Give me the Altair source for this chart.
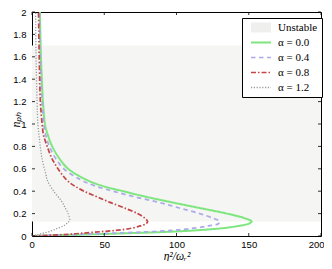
import altair as alt
import pandas as pd

# ---- legend / series definitions ----
series_names = ["Unstable", "α = 0.0", "α = 0.4", "α = 0.8", "α = 1.2"]
series_colors = ["#efefed", "#7ee67e", "#abaaea", "#c24646", "#9a9a9a"]
series_dash = [[1, 0], [1, 0], [4.5, 3.5], [5, 2, 1.5, 2], [1.2, 1.6]]
series_widths = [10, 2, 1.7, 1.7, 1.3]

# ---- shaded unstable band (n_ph range) ----
unstable_lo = [0.13]
unstable_hi = [1.7]

# ---- curves: n_ph values and eta^2/omega_r^2 values ----
a00_n = [2.0, 1.8, 1.6, 1.4, 1.2, 1.0, 0.9, 0.8, 0.7, 0.6, 0.5, 0.45, 0.4, 0.35, 0.3, 0.25,
         0.2, 0.16, 0.13, 0.11, 0.09, 0.07, 0.05, 0.035, 0.024, 0.015, 0.008, 0.0]
a00_x = [5.5, 5.8, 6.2, 6.8, 7.6, 9.0, 11.0, 14.0, 18.5, 25.0, 38.0, 48.0, 63.0, 79.0, 97.0, 116.0,
         135.0, 147.0, 152.0, 150.0, 143.0, 132.0, 113.0, 90.0, 65.0, 42.0, 20.0, 0.0]

a04_n = [2.0, 1.6, 1.2, 1.0, 0.9, 0.8, 0.7, 0.6, 0.5, 0.45, 0.4, 0.35, 0.3, 0.25,
         0.2, 0.16, 0.13, 0.11, 0.09, 0.07, 0.05, 0.035, 0.025, 0.015, 0.008, 0.0]
a04_x = [5.2, 5.8, 7.0, 8.2, 9.5, 12.0, 16.0, 22.0, 34.0, 43.0, 56.0, 71.0, 88.0, 102.0,
         116.0, 125.0, 130.0, 129.0, 122.0, 112.0, 97.0, 75.0, 55.0, 35.0, 18.0, 0.0]

a08_n = [2.0, 1.6, 1.2, 1.0, 0.9, 0.8, 0.7, 0.6, 0.5, 0.45, 0.4, 0.35, 0.3, 0.25,
         0.2, 0.16, 0.13, 0.11, 0.09, 0.07, 0.05, 0.038, 0.025, 0.015, 0.007, 0.0]
a08_x = [4.5, 5.0, 5.8, 7.0, 8.0, 10.5, 13.5, 18.0, 24.0, 29.0, 36.0, 45.0, 54.0, 64.0,
         73.0, 78.0, 80.0, 79.0, 75.0, 69.0, 58.0, 47.0, 35.0, 25.0, 12.0, 0.0]

a12_n = [2.0, 1.6, 1.2, 1.0, 0.85, 0.7, 0.55, 0.5, 0.4, 0.31, 0.25, 0.2, 0.14,
         0.1, 0.07, 0.04, 0.02, 0.01, 0.0]
a12_x = [2.5, 2.8, 3.5, 4.1, 5.3, 6.8, 9.6, 10.5, 15.0, 20.5, 23.0, 25.0, 26.0,
         23.0, 18.0, 12.0, 6.0, 3.0, 0.0]

# ---- axis ticks ----
x_ticks = [0, 50, 100, 150, 200]
y_ticks = [0, 0.2, 0.4, 0.6, 0.8, 1.0, 1.2, 1.4, 1.6, 1.8, 2.0]

W, H = 289, 224

frames = []
for name, ns, xs in [("α = 0.0", a00_n, a00_x), ("α = 0.4", a04_n, a04_x),
                     ("α = 0.8", a08_n, a08_x), ("α = 1.2", a12_n, a12_x)]:
    frames.append(pd.DataFrame({"series": name, "n": ns, "x": xs}))
curves = pd.concat(frames, ignore_index=True)
band = pd.DataFrame({"lo": unstable_lo, "hi": unstable_hi})
xt = pd.DataFrame({"t": x_ticks})
yt = pd.DataFrame({"t": y_ticks})

x_scale = alt.Scale(domain=[0, 200], nice=False, zero=False)
y_scale = alt.Scale(domain=[0, 2], nice=False, zero=False)

x_axis = alt.Axis(values=x_ticks, title="η²/ωᵣ²", labelPadding=3,
                  labelFlush=True, labelFlushOffset=3,
                  titleX=W / 2, titleY=23, titleBaseline="alphabetic", titleFontSize=11.5)
y_axis = alt.Axis(values=y_ticks, format="~g", title="nₚₕ", labelPadding=6,
                  titleX=-13, titleY=107, titleAngle=270,
                  titleBaseline="alphabetic", titleAlign="center")

legend = alt.Legend(
    title=None, orient="none", legendX=210, legendY=6,
    fillColor="white", strokeColor="black", padding=4, cornerRadius=0,
    symbolType="M-3.33,0H3.33", symbolSize=36, symbolOffset=7, labelOffset=9,
    clipHeight=11,
    labelFont="Liberation Serif", labelFontSize=11, labelColor="black", rowPadding=3,
)

band_layer = alt.Chart(band).mark_rect(color="#f5f5f3").encode(
    y=alt.Y("lo:Q", scale=y_scale, axis=y_axis),
    y2="hi:Q",
    x=alt.value(0),
    x2=alt.value(W),
)

lines = alt.Chart(curves).mark_line(clip=True, interpolate="catmull-rom").encode(
    x=alt.X("x:Q", scale=x_scale, axis=x_axis),
    y=alt.Y("n:Q", scale=y_scale, axis=y_axis),
    color=alt.Color("series:N", scale=alt.Scale(domain=series_names, range=series_colors), legend=legend),
    strokeDash=alt.StrokeDash("series:N", scale=alt.Scale(domain=series_names, range=series_dash), legend=legend),
    strokeWidth=alt.StrokeWidth("series:N", scale=alt.Scale(type="ordinal", domain=series_names, range=series_widths), legend=legend),
    order=alt.Order("n:Q"),
)

tick_len = 3
bottom_ticks = alt.Chart(xt).mark_rule(color="black", strokeWidth=0.8).encode(
    x=alt.X("t:Q", scale=x_scale, axis=x_axis), y=alt.value(H), y2=alt.value(H - tick_len))
top_ticks = alt.Chart(xt).mark_rule(color="black", strokeWidth=0.8).encode(
    x=alt.X("t:Q", scale=x_scale, axis=x_axis), y=alt.value(0), y2=alt.value(tick_len))
left_ticks = alt.Chart(yt).mark_rule(color="black", strokeWidth=0.8).encode(
    y=alt.Y("t:Q", scale=y_scale, axis=y_axis), x=alt.value(0), x2=alt.value(tick_len))
right_ticks = alt.Chart(yt).mark_rule(color="black", strokeWidth=0.8).encode(
    y=alt.Y("t:Q", scale=y_scale, axis=y_axis), x=alt.value(W), x2=alt.value(W - tick_len))

chart = alt.layer(band_layer, lines, bottom_ticks, top_ticks, left_ticks, right_ticks).properties(
    width=W, height=H,
    autosize=alt.AutoSizeParams(type="none"),
    padding={"left": 24, "top": 4, "right": 3, "bottom": 25},
).configure_view(
    stroke="black", strokeWidth=1
).configure_axis(
    labelFont="Liberation Sans", labelFontSize=9.5, labelColor="black",
    titleFont="Liberation Serif", titleFontStyle="italic", titleFontWeight="normal",
    titleFontSize=12, titleColor="black",
    ticks=False, domain=False, grid=False,
)

chart.save("out.html", embed_options={"renderer": "svg", "actions": False})
